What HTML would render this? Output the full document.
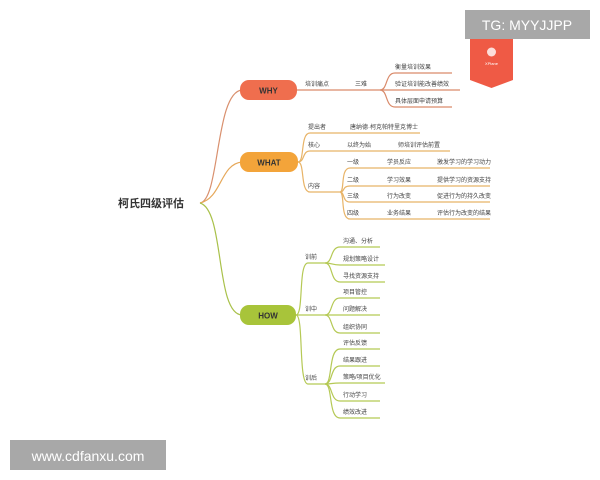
<!DOCTYPE html>
<html><head><meta charset="utf-8"><style>
body{margin:0;width:600px;height:480px;background:#fff;overflow:hidden}
svg{display:block}
text{font-family:"Liberation Sans","Noto Sans CJK SC",sans-serif;font-size:6px;fill:#444}
</style></head><body>
<svg width="600" height="480" viewBox="0 0 600 480">
<g fill="none" stroke-width="1.2">
<!-- root to nodes -->
<path d="M200 203 C220 200,215 92,242 90" stroke="#d9906e"/>
<path d="M200 203 C222 198,220 164,242 162" stroke="#e6a85a"/>
<path d="M200 203 C225 210,215 314,242 315" stroke="#a9c14a"/>
<!-- WHY -->
<g stroke="#d98a6a">
<path d="M297 90 L380 90"/>
<path d="M380 90 C388 90,385 73,395 73 L452 73"/>
<path d="M380 90 L460 90"/>
<path d="M380 90 C388 90,385 107,395 107 L452 107"/>
</g>
<!-- WHAT -->
<g stroke="#e8b468">
<path d="M298 162 C305 162,300 133,310 133 L420 133"/>
<path d="M298 162 C305 162,302 151,310 151 L450 151"/>
<path d="M298 162 C305 162,300 192,310 192 L340 192"/>
<path d="M340 192 C345 192,340 168,350 168 L490 168"/>
<path d="M340 192 C345 192,342 186,350 186 L490 186"/>
<path d="M340 192 C345 192,342 202,350 202 L490 202"/>
<path d="M340 192 C345 192,340 219,350 219 L490 219"/>
</g>
<!-- HOW -->
<g stroke="#b5c955">
<path d="M296 315 C304 315,298 263,308 263 L325 263"/>
<path d="M296 315 L325 315"/>
<path d="M296 315 C304 315,298 384,308 384 L325 384"/>
<path d="M325 263 C333 263,330 247,340 247 L380 247"/>
<path d="M325 263 C333 263,331 265,340 265 L385 265"/>
<path d="M325 263 C333 263,330 282,340 282 L385 282"/>
<path d="M325 315 C333 315,330 298,340 298 L380 298"/>
<path d="M325 315 C333 315,331 315,340 315 L380 315"/>
<path d="M325 315 C333 315,330 333,340 333 L380 333"/>
<path d="M325 384 C333 384,328 349,340 349 L380 349"/>
<path d="M325 384 C333 384,330 366,340 366 L380 366"/>
<path d="M325 384 C333 384,331 383,340 383 L385 383"/>
<path d="M325 384 C333 384,330 401,340 401 L380 401"/>
<path d="M325 384 C333 384,328 418,340 418 L380 418"/>
</g>
</g>
<text x="118" y="207" style="font-size:11px;font-weight:bold;fill:#333">柯氏四级评估</text>
<rect x="240" y="80" width="57" height="20" rx="9" fill="#ef6e4e"/>
<text x="268.5" y="93.5" text-anchor="middle" style="font-size:8px;font-weight:bold;fill:#333">WHY</text>
<rect x="240" y="152" width="58" height="20" rx="9" fill="#f3a43a"/>
<text x="269" y="165.5" text-anchor="middle" style="font-size:8px;font-weight:bold;fill:#333">WHAT</text>
<rect x="240" y="305" width="56" height="20" rx="9" fill="#a8c43a"/>
<text x="268" y="318.5" text-anchor="middle" style="font-size:8px;font-weight:bold;fill:#333">HOW</text>

<text x="305" y="86">培训痛点</text><text x="355" y="86">三难</text>
<text x="395" y="69">衡量培训效果</text><text x="395" y="86">验证培训能改善绩效</text><text x="395" y="103">具体层面申请预算</text>

<text x="308" y="129">提出者</text><text x="350" y="129">唐纳德·柯克帕特里克博士</text>
<text x="308" y="147">核心</text><text x="347" y="147">以终为始</text><text x="398" y="147">师培训评估前置</text>
<text x="308" y="188">内容</text>
<text x="347" y="164">一级</text><text x="387" y="164">学员反应</text><text x="437" y="164">激发学习的学习动力</text>
<text x="347" y="182">二级</text><text x="387" y="182">学习效果</text><text x="437" y="182">提供学习的资源支持</text>
<text x="347" y="198">三级</text><text x="387" y="198">行为改变</text><text x="437" y="198">促进行为的持久改变</text>
<text x="347" y="215">四级</text><text x="387" y="215">业务结果</text><text x="437" y="215">评估行为改变的结果</text>

<text x="305" y="259">训前</text><text x="305" y="311">训中</text><text x="305" y="380">训后</text>
<text x="343" y="243">沟通、分析</text><text x="343" y="261">规划策略设计</text><text x="343" y="278">寻找资源支持</text>
<text x="343" y="294">项目管控</text><text x="343" y="311">问题解决</text><text x="343" y="329">组织协同</text>
<text x="343" y="345">评估反馈</text><text x="343" y="362">结果跟进</text><text x="343" y="379">策略/项目优化</text>
<text x="343" y="397">行动学习</text><text x="343" y="414">绩效改进</text>

<rect x="465" y="10" width="125" height="29" fill="#a8a8a8"/>
<text x="527" y="30" text-anchor="middle" style="font-size:14px;fill:#fff">TG: MYYJJPP</text>
<path d="M470 39 L513 39 L513 80 L491.5 88 L470 80 Z" fill="#ef5a45"/>
<circle cx="491.5" cy="52" r="4.5" fill="#fff" opacity="0.8"/>
<text x="491.5" y="65" text-anchor="middle" style="font-size:4px;fill:#fff">XPlane</text>

<rect x="10" y="440" width="156" height="30" fill="#a8a8a8"/>
<text x="88" y="461" text-anchor="middle" style="font-size:14px;fill:#fff">www.cdfanxu.com</text>
</svg>
</body></html>
